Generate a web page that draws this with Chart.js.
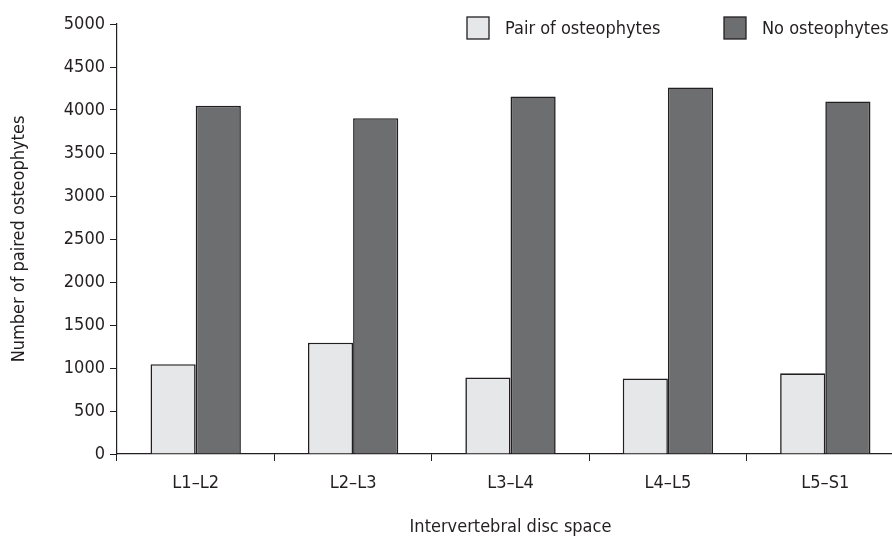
<!DOCTYPE html>
<html>
<head>
<meta charset="utf-8">
<script src="https://cdn.jsdelivr.net/npm/chart.js@4/dist/chart.umd.min.js"></script>
<style>
  html, body { margin: 0; padding: 0; background: #fff; overflow: hidden; }
  #wrap { width: 892px; height: 538px; overflow: hidden; position: relative; }
  #chart { display: block; }
</style>
</head>
<body>
<div id="wrap"><canvas id="chart" width="906" height="538"></canvas></div>
<script>
// -------- Data --------
const discSpaces = ["L1\u2013L2", "L2\u2013L3", "L3\u2013L4", "L4\u2013L5", "L5\u2013S1"];
const pairOfOsteophytes = [1045, 1295, 890, 878, 938];
const noOsteophytes = [4048, 3905, 4158, 4262, 4100];
const yTicks = [0, 500, 1000, 1500, 2000, 2500, 3000, 3500, 4000, 4500, 5000];

const FONT = "'Liberation Sans Narrow', 'DejaVu Sans Condensed', 'Arial Narrow', sans-serif";
const INK = "#231f20";

// -------- Legend drawn at the top right --------
const topLegend = {
  id: "topLegend",
  afterDraw(chart) {
    const ctx = chart.ctx;
    const spots = [467, 724];
    ctx.save();
    ctx.font = "18px " + FONT;
    ctx.textBaseline = "middle";
    chart.data.datasets.forEach((ds, i) => {
      const x = spots[i];
      ctx.fillStyle = ds.backgroundColor;
      ctx.fillRect(x, 17, 22, 22);
      ctx.strokeStyle = INK;
      ctx.lineWidth = 1.3;
      ctx.strokeRect(x, 17, 22, 22);
      ctx.fillStyle = INK;
      ctx.fillText(ds.label, x + 38, 29);
    });
    ctx.restore();
  }
};

new Chart(document.getElementById("chart"), {
  type: "bar",
  data: {
    labels: discSpaces,
    datasets: [
      { label: "Pair of osteophytes", data: pairOfOsteophytes, backgroundColor: "#e6e7e8", borderColor: INK, borderWidth: 1.6 },
      { label: "No osteophytes", data: noOsteophytes, backgroundColor: "#6d6e70", borderColor: INK, borderWidth: 1.6 }
    ]
  },
  options: {
    responsive: false,
    animation: false,
    layout: { padding: { top: 24, right: 2, left: 0, bottom: 0 } },
    plugins: { legend: { display: false }, tooltip: { enabled: false } },
    datasets: { bar: { barPercentage: 1, categoryPercentage: 0.574 } },
    scales: {
      x: {
        grid: { offset: true, drawOnChartArea: false, drawTicks: true, tickLength: 7, color: INK },
        border: { display: true, color: INK, width: 1.2 },
        ticks: { color: INK, font: { family: FONT, size: 18 }, padding: 12 },
        title: { display: true, text: "Intervertebral disc space", color: INK, font: { family: FONT, size: 18 }, padding: { top: 20, bottom: 0 } },
        afterFit: s => { s.height = 84; }
      },
      y: {
        min: 0,
        max: 5000,
        afterBuildTicks: s => { s.ticks = yTicks.map(v => ({ value: v })); },
        grid: { drawOnChartArea: false, drawTicks: true, tickLength: 7, color: INK },
        border: { display: true, color: INK, width: 1.2 },
        ticks: { color: INK, font: { family: FONT, size: 18 }, padding: 5, callback: v => String(v) },
        title: { display: true, text: "Number of paired osteophytes", color: INK, font: { family: FONT, size: 18 }, padding: { top: 9, bottom: 10 } },
        afterFit: s => { s.width = 117; }
      }
    }
  },
  plugins: [topLegend]
});
</script>
</body>
</html>
